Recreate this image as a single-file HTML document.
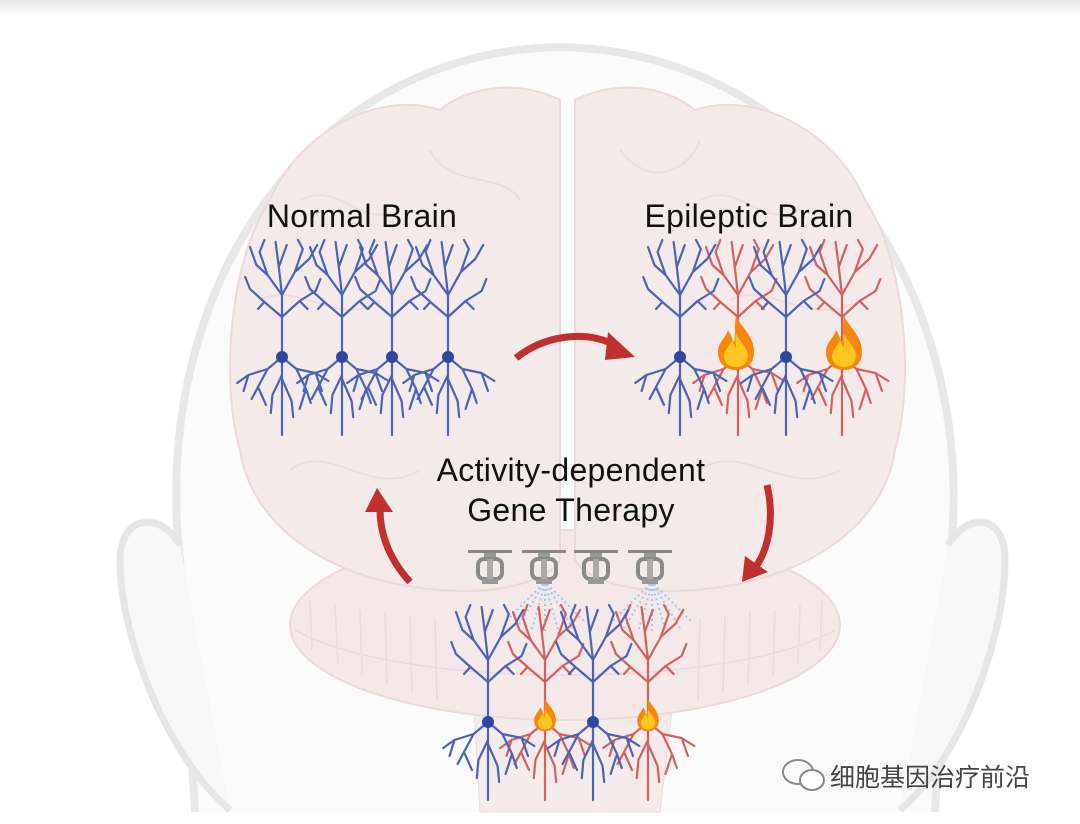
<!DOCTYPE html>
<html><head><meta charset="utf-8"><style>
html,body{margin:0;padding:0;background:#fff;}
svg{display:block;}
</style></head><body>
<svg width="1080" height="824" viewBox="0 0 1080 824" xmlns="http://www.w3.org/2000/svg">
<defs>
<linearGradient id="tb" x1="0" y1="0" x2="0" y2="1"><stop offset="0" stop-color="#e6e6e6"/><stop offset="1" stop-color="#fff"/></linearGradient>
<g id="nr0">
 <path d="M0,0 L0,-62 M0,-62 L-18,-82 L-28,-105 M-18,-82 L-32,-92 L-40,-110 M-28,-105 L-22,-117 M0,-62 L16,-85 L26,-108 M16,-85 L34,-98 L44,-112 M26,-108 L20,-117 M0,-62 L-4,-90 L-8,-115 M-4,-90 L6,-112 M0,-40 L-22,-55 L-40,-68 M0,-40 L22,-56 L42,-66 M-22,-55 L-30,-48 M22,-56 L32,-48 M-40,-68 L-46,-80 M42,-66 L48,-78
 M0,0 L-18,12 L-42,18 L-56,26 M-18,12 L-30,30 L-38,42 M-42,18 L-48,34 M0,0 L18,12 L42,16 L58,24 M18,12 L30,32 L36,46 M42,16 L50,34 M0,0 L0,78 M0,18 L-12,38 L-14,56 M0,22 L12,44 L14,60 M-30,30 L-20,48 M30,32 L22,52" fill="none" stroke-width="2.2" stroke-linecap="round" stroke-linejoin="round" vector-effect="non-scaling-stroke"/>
</g>
<g id="nr"><use href="#nr0" transform="scale(0.8,1)"/></g>
<g id="flame">
 <path d="M0,-32 C6,-20 18,-12 18,4 C18,16 10,22 0,22 C-10,22 -18,16 -18,4 C-18,-6 -10,-10 -8,-18 C-4,-12 -4,-8 -2,-6 C0,-14 -2,-24 0,-32Z" fill="#f7860e"/>
 <path d="M0,-14 C4,-6 12,0 12,8 C12,16 6,19 0,19 C-6,19 -12,16 -12,8 C-12,2 -6,-2 -4,-8 C-2,-4 -2,-2 0,0 C0,-6 -1,-10 0,-14Z" fill="#fcc520"/>
</g>
<g id="spr">
 <rect x="-22" y="-2" width="44" height="3" fill="#888"/>
 <rect x="-6" y="1" width="12" height="6" fill="#999"/>
 <rect x="-12" y="7" width="24" height="20" rx="6" fill="none" stroke="#8a8a8a" stroke-width="4"/>
 <rect x="-3" y="7" width="6" height="20" fill="#aaa"/>
 <rect x="-8" y="27" width="16" height="5" fill="#999"/>
</g>
<g id="spray">
 <path d="M-2,2 L-40,40 M-1,2 L-28,46 M0,2 L-14,50 M0,2 L0,52 M0,2 L14,50 M1,2 L28,46 M2,2 L40,40" stroke="#9cc8ee" stroke-width="2" stroke-dasharray="2 3" fill="none"/>
</g>
</defs>
<rect width="1080" height="824" fill="#fff"/>
<rect width="1080" height="16" fill="url(#tb)"/>
<!-- head -->
<path d="M195,812 L180,560 C150,300 300,52 560,47 C820,52 980,300 950,560 L935,812" fill="#fbfbfb" stroke="#e8e8e8" stroke-width="8"/>
<path d="M180,545 C160,510 120,515 120,560 C120,640 170,760 230,810" fill="#f8f8f8" stroke="#e6e6e6" stroke-width="7"/>
<path d="M948,545 C970,510 1005,515 1005,560 C1005,640 960,760 900,810" fill="#f8f8f8" stroke="#e6e6e6" stroke-width="7"/>
<!-- brain -->
<path d="M470,640 L480,812 L660,812 L680,640Z" fill="#f5ebeb" stroke="#ecdcdc"/>
<ellipse cx="565" cy="625" rx="275" ry="95" fill="#f4e8e8" stroke="#ecd9d9" stroke-width="2"/>
<g stroke="#ecdada" stroke-width="1.5">
<path d="M310,600 L312,650 M335,605 L338,665 M360,610 L362,675 M385,612 L387,685 M410,615 L412,692 M435,618 L437,700 M700,618 L698,700 M725,615 L723,692 M750,612 L748,685 M775,610 L773,675 M800,605 L798,665 M822,600 L820,650"/>
<path d="M295,630 C400,690 730,690 835,630" fill="none"/>
</g>
<path d="M560,100 C520,80 470,85 440,110 C380,90 300,130 270,200 C230,260 220,380 240,450 C250,520 320,580 440,590 C500,595 550,580 560,560Z" fill="#f5eaea" stroke="#ecd9d9" stroke-width="2"/>
<path d="M575,100 C615,80 665,85 695,110 C755,90 835,130 865,200 C905,260 915,380 895,450 C885,520 815,580 695,590 C635,595 585,580 575,560Z" fill="#f5eaea" stroke="#ecd9d9" stroke-width="2"/>
<g fill="none" stroke="#eddcdc" stroke-width="2">
<path d="M300,200 C340,180 360,230 400,210 M260,300 C300,280 340,330 380,300 M290,470 C330,440 370,500 420,470 M430,150 C450,190 500,170 520,200"/>
<path d="M700,200 C740,180 760,230 800,210 M730,300 C770,280 810,330 860,300 M700,470 C740,440 790,500 840,470 M620,150 C650,190 690,170 700,140"/>
</g>
<!-- text -->
<g font-family="Liberation Sans, sans-serif" font-size="32" fill="#111" text-anchor="middle" letter-spacing="0.3">
<text x="362" y="227">Normal Brain</text>
<text x="749" y="227">Epileptic Brain</text>
<text x="571" y="481">Activity-dependent</text>
<text x="571" y="521">Gene Therapy</text>
</g>
<!-- normal neurons -->
<g stroke="#4a63b8">
<use href="#nr" x="282" y="357"/><use href="#nr" x="342" y="357"/><use href="#nr" x="392" y="357"/><use href="#nr" x="448" y="357"/>
</g>
<g fill="#2e47a0"><circle cx="282" cy="357" r="6"/><circle cx="342" cy="357" r="6"/><circle cx="392" cy="357" r="6"/><circle cx="448" cy="357" r="6"/></g>
<!-- epileptic -->
<g stroke="#d46060"><use href="#nr" x="738" y="357"/><use href="#nr" x="842" y="357"/></g>
<g stroke="#4a63b8"><use href="#nr" x="680" y="357"/><use href="#nr" x="786" y="357"/></g>
<g fill="#2e47a0"><circle cx="680" cy="357" r="6"/><circle cx="786" cy="357" r="6"/></g>
<use href="#flame" x="736" y="348"/><use href="#flame" x="844" y="348"/>
<!-- bottom -->
<use href="#spray" x="545" y="582"/><use href="#spray" x="652" y="582"/>
<use href="#spr" x="490" y="552"/><use href="#spr" x="544" y="552"/><use href="#spr" x="596" y="552"/><use href="#spr" x="650" y="552"/>
<g stroke="#d46060"><use href="#nr" x="545" y="722"/><use href="#nr" x="648" y="722"/></g>
<g stroke="#4a63b8"><use href="#nr" x="488" y="722"/><use href="#nr" x="593" y="722"/></g>
<g fill="#2e47a0"><circle cx="488" cy="722" r="6"/><circle cx="593" cy="722" r="6"/></g>
<g transform="translate(545,718) scale(0.6)"><use href="#flame"/></g>
<g transform="translate(648,718) scale(0.6)"><use href="#flame"/></g>
<!-- arrows -->
<g fill="none" stroke="#c0302e" stroke-width="7" stroke-linecap="butt">
<path d="M516,358 C545,335 585,330 615,345"/>
<path d="M767,485 C775,520 768,550 755,568"/>
<path d="M410,582 C390,560 380,535 380,510"/>
</g>
<g fill="#c0302e">
<path d="M635,357 L608,332 L605,360Z"/>
<path d="M742,582 L745,556 L768,572Z"/>
<path d="M377,488 L365,512 L393,512Z"/>
</g>
<!-- watermark -->
<g>
<ellipse cx="798" cy="772" rx="15" ry="12" fill="none" stroke="#888" stroke-width="2"/>
<ellipse cx="812" cy="780" rx="12" ry="10" fill="#fff" stroke="#888" stroke-width="2"/>
<text x="830" y="786" font-family="Liberation Sans, Noto Sans CJK SC, sans-serif" font-size="25" fill="#444">细胞基因治疗前沿</text>
</g>
</svg>
</body></html>
